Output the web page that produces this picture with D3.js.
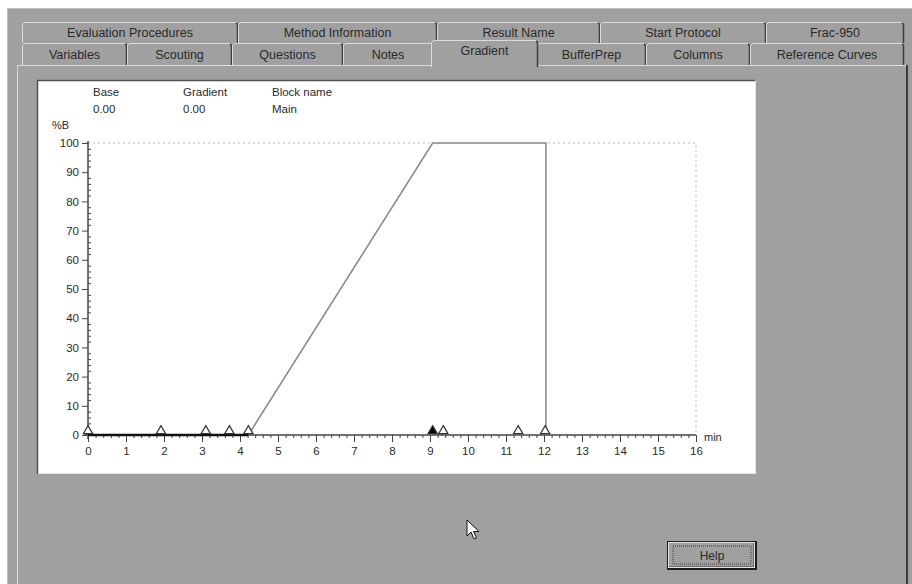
<!DOCTYPE html>
<html>
<head>
<meta charset="utf-8">
<script src="https://cdn.jsdelivr.net/npm/d3@7"></script>
<style>
  body { margin: 0; background: #fff; }
  svg { display: block; }
  text { font-family: "Liberation Sans", Arial, sans-serif; fill: #2a2a2a; }
</style>
</head>
<body>
<svg id="chart" width="912" height="584"></svg>
<script>
// tab captions
const tabsTop = ["Evaluation Procedures", "Method Information", "Result Name", "Start Protocol", "Frac-950"];
const tabsBottom = ["Variables", "Scouting", "Questions", "Notes", "Gradient", "BufferPrep", "Columns", "Reference Curves"];
const activeTab = "Gradient";

// header info above the plot
const headerLabels = ["Base", "Gradient", "Block name"];
const headerValues = ["0.00", "0.00", "Main"];

// gradient profile (%B vs min)
const gradientTime = [0, 4.22, 9.07, 12.05, 12.05];
const gradientB = [0, 0, 100, 100, 0];

// event markers along the time axis
const eventTime = [0, 1.92, 3.1, 3.72, 4.22, 9.07, 9.35, 11.32, 12.03];
const eventFilled = [false, false, false, false, false, true, false, false, false];

// axis ticks
const yTicks = d3.range(0, 101, 10);
const xTicks = d3.range(0, 17, 1);

// layout of the window chrome
const topEdges = [22, 238, 437, 600, 766, 904];
const bottomEdges = [22, 127, 232, 343, 433, 537, 646, 750, 904];
const bg = "#a0a0a0", light = "#dadada", dark = "#3c3c3c";

const svg = d3.select("#chart");

// window background
svg.append("rect").attr("x", 7).attr("y", 8).attr("width", 905).attr("height", 576).attr("fill", bg);
svg.append("line").attr("x1", 7.5).attr("x2", 7.5).attr("y1", 8).attr("y2", 584).attr("stroke", "#bdbdbd");
svg.append("line").attr("x1", 7).attr("x2", 912).attr("y1", 8.5).attr("y2", 8.5).attr("stroke", "#bdbdbd");

function drawTab(g, x0, x1, y0, y1, label, active, ty) {
  g.append("rect").attr("x", x0).attr("y", y0).attr("width", x1 - x0).attr("height", y1 - y0).attr("fill", bg);
  g.append("path").attr("d", `M${x0 + 0.5},${y1}V${y0 + 2.5}l2,-2H${x1 - 2}`)
    .attr("fill", "none").attr("stroke", light);
  g.append("path").attr("d", `M${x1 - 2},${y0 + 1}l1.5,1.5V${y1}`)
    .attr("fill", "none").attr("stroke", dark).attr("stroke-width", 1.5);
  g.append("text").attr("x", (x0 + x1) / 2).attr("y", ty).attr("text-anchor", "middle")
    .attr("font-size", 12.5).attr("textLength", null).text(label);
}

const tabs = svg.append("g");
tabsTop.forEach((t, i) => drawTab(tabs, topEdges[i], topEdges[i + 1], 22, 43, t, false, 37));
tabsBottom.forEach((t, i) => {
  if (t !== activeTab) drawTab(tabs, bottomEdges[i], bottomEdges[i + 1], 43, 65, t, false, 59);
});

// panel
svg.append("rect").attr("x", 17).attr("y", 65).attr("width", 891).attr("height", 519).attr("fill", bg);
svg.append("line").attr("x1", 17).attr("x2", 906).attr("y1", 65.5).attr("y2", 65.5).attr("stroke", light);
svg.append("line").attr("x1", 17.5).attr("x2", 17.5).attr("y1", 65).attr("y2", 584).attr("stroke", light);
svg.append("line").attr("x1", 907).attr("x2", 907).attr("y1", 65).attr("y2", 584).attr("stroke", dark).attr("stroke-width", 2);

// active tab, drawn over the panel top
const ai = tabsBottom.indexOf(activeTab);
drawTab(tabs.raise(), bottomEdges[ai] - 2, bottomEdges[ai + 1] + 1, 40, 67, activeTab, true, 55);

// white plot frame (sunken)
svg.append("rect").attr("x", 37).attr("y", 80).attr("width", 718).attr("height", 394).attr("fill", "#fff");
svg.append("path").attr("d", "M37.5,474V80.5H755").attr("fill", "none").attr("stroke", "#505050").attr("stroke-width", 1.5);
svg.append("path").attr("d", "M755.5,81V473.5H38").attr("fill", "none").attr("stroke", "#e8e8e8");

// header texts
const hx = [93, 183, 272];
headerLabels.forEach((h, i) => {
  svg.append("text").attr("x", hx[i]).attr("y", 96).attr("font-size", 11.5).text(h);
  svg.append("text").attr("x", hx[i]).attr("y", 113).attr("font-size", 11.5).text(headerValues[i]);
});

// scales
const x = d3.scaleLinear().domain([0, 16]).range([88, 696]);
const y = d3.scaleLinear().domain([0, 100]).range([435, 143]);

const plot = svg.append("g");

// dotted limit lines
plot.append("path")
  .attr("d", `M${x(0)},${y(100)}H${x(16)}V${y(0)}`)
  .attr("fill", "none").attr("stroke", "#b8b8b8").attr("stroke-dasharray", "2,3");

// y axis
const yAxis = plot.append("g").attr("transform", `translate(${x(0)},0)`);
yAxis.call(d3.axisLeft(y).tickValues(yTicks).tickSize(6).tickPadding(3).tickFormat(d3.format("d")));
yAxis.append("g").call(d3.axisRight(y).tickValues(d3.range(0, 101, 2).filter(v => v % 10)).tickSize(3).tickFormat(""));
yAxis.selectAll(".domain").remove();
yAxis.append("line").attr("y1", y(100) - 2).attr("y2", y(0) + 4).attr("stroke", "#444").attr("stroke-width", 1.5);
yAxis.selectAll("line").attr("stroke", "#444");
yAxis.selectAll("text").attr("font-size", 11.5).attr("font-family", null).attr("fill", "#2a2a2a");

// x axis
const xAxis = plot.append("g").attr("transform", `translate(0,${y(0)})`);
xAxis.call(d3.axisBottom(x).tickValues(xTicks).tickSize(7).tickPadding(5).tickFormat(d3.format("d")));
xAxis.append("g").call(d3.axisBottom(x).tickValues(d3.range(0, 80).map(v => v / 5).filter(v => Math.abs(v - Math.round(v)) > 1e-6)).tickSize(3).tickFormat(""));
xAxis.selectAll(".domain").remove();
xAxis.append("line").attr("x1", x(0) - 4).attr("x2", x(16)).attr("stroke", "#444").attr("stroke-width", 1.5);
xAxis.selectAll("line").attr("stroke", "#444");
xAxis.selectAll("text").attr("font-size", 11.5).attr("font-family", null).attr("fill", "#2a2a2a");

// axis captions
svg.append("text").attr("x", 52).attr("y", 129).attr("font-size", 11).text("%B");
svg.append("text").attr("x", 704).attr("y", 441).attr("font-size", 11).text("min");

// gradient line
const pts = gradientTime.map((t, i) => [t, gradientB[i]]);
const line = d3.line().x(d => x(d[0])).y(d => y(d[1]));
plot.append("path").datum(pts.slice(1)).attr("d", line)
  .attr("fill", "none").attr("stroke", "#8a8a8a").attr("stroke-width", 1.6);
plot.append("path").datum(pts.slice(0, 2)).attr("d", line)
  .attr("fill", "none").attr("stroke", "#111").attr("stroke-width", 2.5);

// event markers
const tri = d3.symbol().type(d3.symbolTriangle).size(38);
plot.selectAll(".ev").data(eventTime).join("path")
  .attr("transform", d => `translate(${x(d)},${y(0) - 4})`)
  .attr("d", tri)
  .attr("fill", (d, i) => eventFilled[i] ? "#000" : "#fff")
  .attr("stroke", "#333").attr("stroke-width", 1.2);

// Help button
const btn = svg.append("g").attr("transform", "translate(667,541)");
btn.append("rect").attr("width", 90).attr("height", 29).attr("fill", "#1e1e1e");
btn.append("rect").attr("x", 1).attr("y", 1).attr("width", 87).attr("height", 26).attr("fill", "#e2e2e2");
btn.append("rect").attr("x", 2).attr("y", 2).attr("width", 85).attr("height", 24).attr("fill", "#6a6a6a");
btn.append("rect").attr("x", 2).attr("y", 2).attr("width", 84).attr("height", 23).attr("fill", bg);
btn.append("rect").attr("x", 6).attr("y", 5).attr("width", 78).attr("height", 18).attr("fill", "none")
  .attr("stroke", "#3a3a3a").attr("stroke-dasharray", "1,1");
btn.append("text").attr("x", 45).attr("y", 19).attr("text-anchor", "middle").attr("font-size", 12).text("Help");

// mouse pointer
svg.append("path").attr("transform", "translate(467,520)")
  .attr("d", "M0,0V16L4,12L7,19L9.5,18L6.5,11.5H12Z")
  .attr("fill", "#fff").attr("stroke", "#111").attr("stroke-width", 1);
</script>
</body>
</html>
